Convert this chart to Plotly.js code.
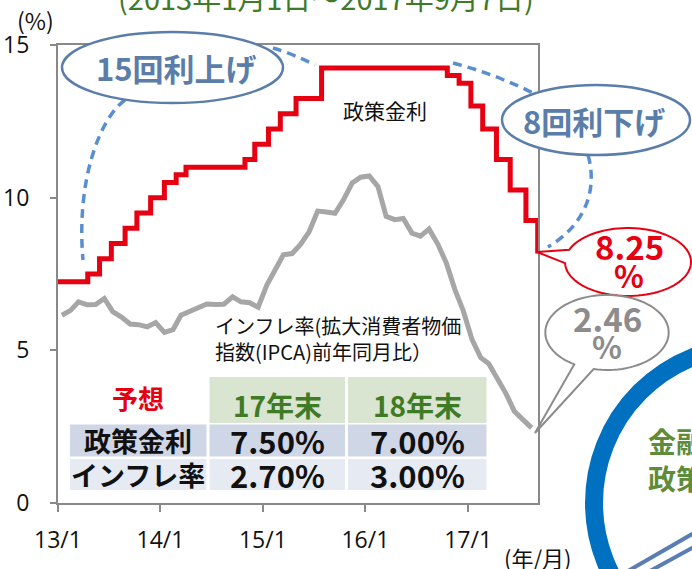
<!DOCTYPE html>
<html>
<head>
<meta charset="utf-8">
<script src="https://cdn.plot.ly/plotly-3.0.1.min.js"></script>
<style>html,body{margin:0;padding:0;background:#fff;}#chart{width:692px;height:569px;}</style>
</head>
<body>
<div id="chart"></div>
<script>
// ---- data ----
const selicDates = ['2013-01-01','2013-04-17','2013-05-29','2013-07-10','2013-08-28','2013-10-09','2013-11-27',
  '2014-01-15','2014-02-26','2014-04-02','2014-10-29','2014-12-03','2015-01-21','2015-03-04','2015-04-29',
  '2015-07-29','2016-10-19','2016-11-30','2017-01-11','2017-02-22','2017-04-12','2017-05-31','2017-07-26',
  '2017-09-06','2017-09-07'];
const selicValues = [7.25,7.50,8.00,8.50,9.00,9.50,10.00,10.50,10.75,11.00,11.25,11.75,12.25,12.75,13.25,
  14.25,14.00,13.75,13.00,12.25,11.25,10.25,9.25,8.25,8.25];
const ipcaMonths = ['2013-01-15','2013-02-15','2013-03-15','2013-04-15','2013-05-15','2013-06-15','2013-07-15','2013-08-15','2013-09-15','2013-10-15','2013-11-15','2013-12-15',
  '2014-01-15','2014-02-15','2014-03-15','2014-04-15','2014-05-15','2014-06-15','2014-07-15','2014-08-15','2014-09-15','2014-10-15','2014-11-15','2014-12-15',
  '2015-01-15','2015-02-15','2015-03-15','2015-04-15','2015-05-15','2015-06-15','2015-07-15','2015-08-15','2015-09-15','2015-10-15','2015-11-15','2015-12-15',
  '2016-01-15','2016-02-15','2016-03-15','2016-04-15','2016-05-15','2016-06-15','2016-07-15','2016-08-15','2016-09-15','2016-10-15','2016-11-15','2016-12-15',
  '2017-01-15','2017-02-15','2017-03-15','2017-04-15','2017-05-15','2017-06-15','2017-07-15','2017-08-15'];
const ipcaValues = [6.15,6.31,6.59,6.49,6.50,6.70,6.27,6.09,5.86,5.84,5.77,5.91,
  5.59,5.68,6.15,6.28,6.37,6.52,6.50,6.51,6.75,6.59,6.56,6.41,
  7.14,7.70,8.13,8.17,8.47,8.89,9.56,9.53,9.49,9.93,10.48,10.67,
  10.71,10.36,9.39,9.28,9.32,8.84,8.74,8.97,8.48,7.87,6.99,6.29,
  5.35,4.76,4.57,4.08,3.60,3.00,2.71,2.46];
const xTickVals = ['2013-01-01','2014-01-01','2015-01-01','2016-01-01','2017-01-01'];
const xTickText = ['13/1','14/1','15/1','16/1','17/1'];
const yTickVals = [0,5,10,15];
const tableCols = ['17年末','18年末'];
const tableRows = ['政策金利','インフレ率'];
const tableVals = [['7.50%','7.00%'],['2.70%','3.00%']];
const selicLast = '8.25';
const ipcaLast = '2.46';

// ---- geometry helpers (pixel -> paper) ----
const W = 692, H = 569, L = 58, R = 154, T = 45, B = 66;
const PW = W - L - R, PH = H - T - B;
const px = x => (x - L) / PW;
const py = y => (H - B - y) / PH;
const pt = (x, y) => px(x).toFixed(5) + ',' + py(y).toFixed(5);
const JP = '"Noto Sans CJK JP", "Noto Sans", sans-serif';
const LAT = '"Open Sans", "Noto Sans", sans-serif';

function ann(x, y, text, o) {
  o = o || {};
  return Object.assign({xref:'paper', yref:'paper', x:px(x), y:py(y), text:text, showarrow:false,
    xanchor:'center', yanchor:'middle', font:{family:JP, size:19, color:'#111'}}, o);
}
function rect(x0, y0, x1, y1, color) {
  return {type:'rect', xref:'paper', yref:'paper', x0:px(x0), x1:px(x1), y0:py(y1), y1:py(y0),
    fillcolor:color, line:{width:0}, layer:'above'};
}
function ellipse(x0, y0, x1, y1, color, w) {
  return {type:'circle', xref:'paper', yref:'paper', x0:px(x0), x1:px(x1), y0:py(y1), y1:py(y0),
    fillcolor:'#fff', line:{color:color, width:w}, layer:'above'};
}
function bubble(cx, cy, rx, ry, a0, a1, tx, ty, color) {
  let d = '';
  const n = 90;
  for (let i = 0; i <= n; i++) {
    const a = (a0 + (a1 - a0) * i / n) * Math.PI / 180;
    d += (i === 0 ? 'M' : 'L') + pt(cx + rx * Math.cos(a), cy + ry * Math.sin(a));
  }
  d += 'L' + pt(tx, ty) + 'Z';
  return {type:'path', xref:'paper', yref:'paper', path:d, fillcolor:'#fff',
    line:{color:color, width:2}, layer:'above'};
}
function dashPath(d) {
  return {type:'path', xref:'paper', yref:'paper', path:d, line:{color:'#5a8fcf', width:3.5, dash:'9px,6px'}, layer:'above'};
}

const shapes = [];
// table cells
const colX = [[209.5,345],[348,486.5]];
const labelX = [70,206.5];
const headerY = [377,423];
const rowY = [[424.5,456.5],[459,490]];
const rowColors = ['#cfd6e6','#e6ebf3'];
colX.forEach(c => shapes.push(rect(c[0], headerY[0], c[1], headerY[1], '#d9e4d1')));
rowY.forEach((r, i) => {
  shapes.push(rect(labelX[0], r[0], labelX[1], r[1], rowColors[i]));
  colX.forEach(c => shapes.push(rect(c[0], r[0], c[1], r[1], rowColors[i])));
});
// dashed connectors
shapes.push(dashPath('M' + pt(125,100) + 'C' + pt(100,118) + ' ' + pt(76,180) + ' ' + pt(83,260)));
shapes.push(dashPath('M' + pt(273,48) + 'Q' + pt(293,54) + ' ' + pt(315,65)));
shapes.push(dashPath('M' + pt(453,63) + 'Q' + pt(495,74) + ' ' + pt(533,93)));
shapes.push(dashPath('M' + pt(588,155) + 'C' + pt(598,190) + ' ' + pt(585,225) + ' ' + pt(548,247)));
// callout ellipses
shapes.push(ellipse(62,32,283,103,'#5b7daa',2.5));
shapes.push(ellipse(502,85,690,155,'#5b7daa',2.5));
// speech bubbles
shapes.push(bubble(628,262,63,34,201,538,537,252,'#e60012'));
shapes.push(bubble(607,332.5,61.7,37.5,122,462.5,535,433,'#8c8c8c'));
// blue ring and lines of the neighbouring figure
shapes.push({type:'circle', xref:'paper', yref:'paper', x0:px(594), x1:px(908), y0:py(660), y1:py(346),
  line:{color:'#0070c0', width:18}, layer:'above'});
shapes.push({type:'line', xref:'paper', yref:'paper', x0:px(628), y0:py(571), x1:px(694), y1:py(533),
  line:{color:'#5a7db5', width:4}, layer:'above'});
shapes.push({type:'line', xref:'paper', yref:'paper', x0:px(650), y0:py(571), x1:px(694), y1:py(547),
  line:{color:'#5a7db5', width:4}, layer:'above'});

const annotations = [];
annotations.push(ann(326, -3, '(2013年1月1日～2017年9月7日)', {font:{family:JP, size:29, color:'#3f7a2a'}}));
annotations.push(ann(35, 20, '(%)', {font:{family:JP, size:23, color:'#111'}}));
annotations.push(ann(538, 557, '(年/月)', {font:{family:JP, size:22, color:'#111'}}));
annotations.push(ann(385, 110, '政策金利', {font:{family:JP, size:21, color:'#111'}}));
annotations.push(ann(213, 338, 'インフレ率(拡大消費者物価<br>指数(IPCA)前年同月比）',
  {xanchor:'left', align:'left', font:{family:JP, size:20, color:'#111'}}));
annotations.push(ann(176, 68, '<b>15回利上げ</b>', {font:{family:JP, size:31, color:'#5b7daa'}}));
annotations.push(ann(594, 120, '<b>8回利下げ</b>', {font:{family:JP, size:31, color:'#5b7daa'}}));
annotations.push(ann(629, 246, '<b>' + selicLast + '</b>', {font:{family:JP, size:33, color:'#e60012'}}));
annotations.push(ann(629, 274, '<b>%</b>', {font:{family:JP, size:31, color:'#e60012'}}));
annotations.push(ann(607, 318, '<b>' + ipcaLast + '</b>', {font:{family:JP, size:33, color:'#8c8c8c'}}));
annotations.push(ann(607, 345, '<b>%</b>', {font:{family:JP, size:31, color:'#8c8c8c'}}));
annotations.push(ann(646, 441, '<b>金融</b>', {xanchor:'left', font:{family:JP, size:28, color:'#5e8c3a'}}));
annotations.push(ann(646, 478, '<b>政策</b>', {xanchor:'left', font:{family:JP, size:28, color:'#5e8c3a'}}));
// table text
annotations.push(ann(138, 397, '<b>予想</b>', {font:{family:JP, size:26, color:'#e60012'}}));
tableCols.forEach((t, j) => annotations.push(ann((colX[j][0] + colX[j][1]) / 2, 405, '<b>' + t + '</b>',
  {font:{family:JP, size:28, color:'#3f7a25'}})));
tableRows.forEach((t, i) => {
  const cy = (rowY[i][0] + rowY[i][1]) / 2;
  annotations.push(ann((labelX[0] + labelX[1]) / 2, cy, '<b>' + t + '</b>', {font:{family:JP, size:27, color:'#111'}}));
  tableVals[i].forEach((v, j) => annotations.push(ann((colX[j][0] + colX[j][1]) / 2, cy, '<b>' + v + '</b>',
    {font:{family:JP, size:31, color:'#111'}})));
});

const traces = [
  {x: ipcaMonths, y: ipcaValues, type:'scatter', mode:'lines', line:{color:'#a6a6a6', width:5}, hoverinfo:'skip'},
  {x: selicDates, y: selicValues, type:'scatter', mode:'lines', line:{color:'#e60012', width:5, shape:'hv'}, hoverinfo:'skip'}
];

const axisCommon = {showgrid:false, zeroline:false, showline:true, linecolor:'#898989', linewidth:2, mirror:true,
  ticks:'outside', tickcolor:'#898989', tickwidth:2, tickfont:{family:LAT, size:23, color:'#111'}};
const layout = {
  width:W, height:H, margin:{l:L, r:R, t:T, b:B, pad:0},
  paper_bgcolor:'#fff', plot_bgcolor:'#fff', showlegend:false,
  xaxis: Object.assign({}, axisCommon, {type:'date', range:['2013-01-01','2017-09-07'], tickmode:'array',
    tickvals:xTickVals, ticktext:xTickText, ticklen:7, ticklabelstandoff:8}),
  yaxis: Object.assign({}, axisCommon, {range:[0,15], tickmode:'array', tickvals:yTickVals, ticklen:6, ticklabelstandoff:16}),
  shapes: shapes, annotations: annotations
};
Plotly.newPlot('chart', traces, layout, {displayModeBar:false, staticPlot:true});
</script>
</body>
</html>
